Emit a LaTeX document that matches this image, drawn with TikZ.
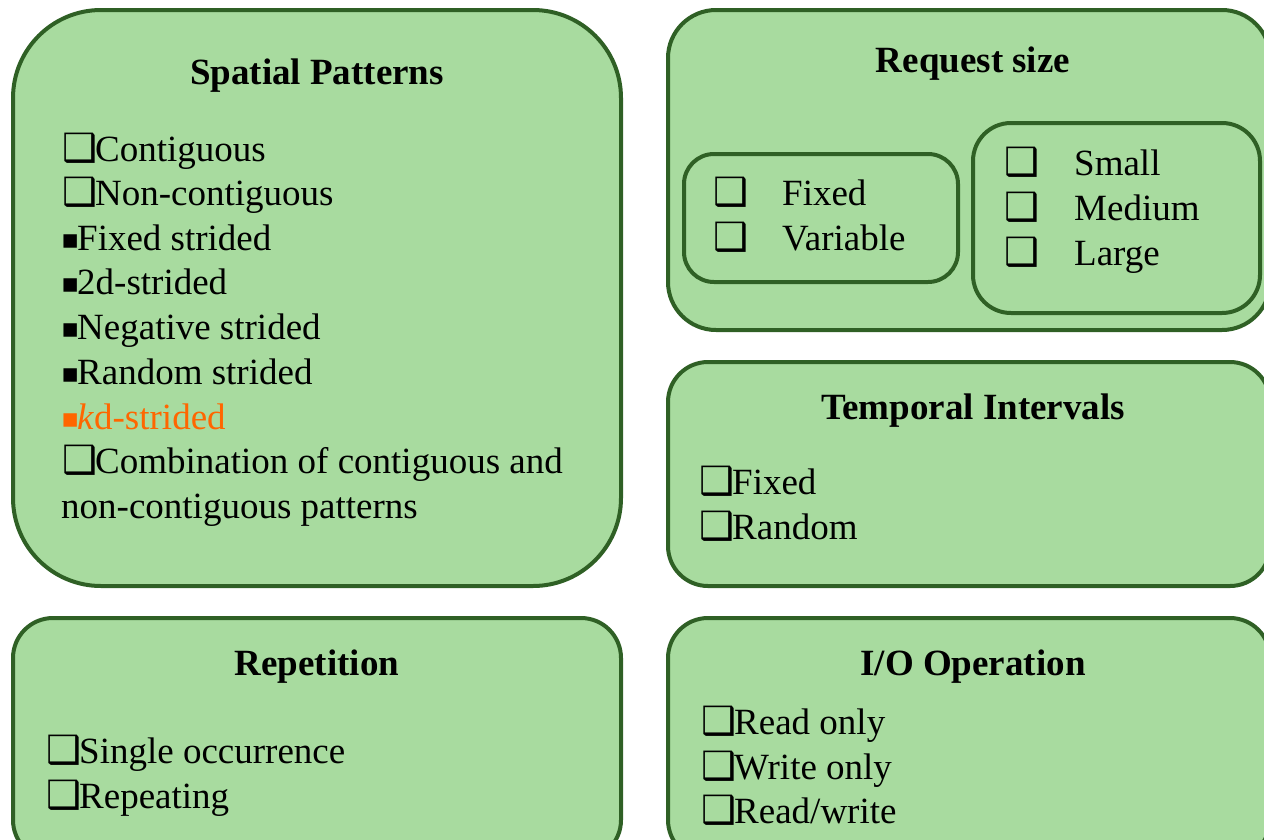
\documentclass[tikz,border=0pt]{standalone}
\usepackage{fontspec}
\setmainfont{Liberation Serif}
\newfontfamily\symfont{DejaVu Sans}
\definecolor{boxfill}{RGB}{168,219,159}
\definecolor{boxline}{RGB}{47,96,37}
\definecolor{kdorange}{RGB}{255,102,0}
\newcommand\cbx{\makebox[32pt][l]{\symfont\fontsize{39}{39}\selectfont\kern-1pt ❑}}
\newcommand\sqb{\makebox[14pt][l]{\raisebox{2pt}{\symfont\fontsize{27}{27}\selectfont\kern-2pt ▪}}}
\begin{document}
\begin{tikzpicture}[x=1pt,y=-1pt,
  panel/.style={draw=boxline,fill=boxfill,line width=4pt},
  txt/.style={anchor=base west,inner sep=0pt,font=\fontsize{37}{44}\selectfont},
  ttl/.style={anchor=base,inner sep=0pt,font=\fontsize{37}{44}\selectfont\bfseries}]
\useasboundingbox (0,0) rectangle (1264,839);
\clip (0,0) rectangle (1264,839);
% panels
\draw[panel,rounded corners=88pt] (13,10) rectangle (621,586);
\draw[panel,rounded corners=48pt] (668,10) rectangle (1270,330);
\draw[panel,rounded corners=30pt] (684,154) rectangle (958,282);
\draw[panel,rounded corners=38pt] (973,123) rectangle (1260,313);
\draw[panel,rounded corners=40pt] (668,362) rectangle (1270,586);
\draw[panel,rounded corners=40pt] (13,618) rectangle (621,860);
\draw[panel,rounded corners=40pt] (668,618) rectangle (1270,860);
% Spatial patterns
\node[ttl] (sptitle) at (317,84) {Spatial Patterns};
\node[txt] (sp1) at (63,161) {\cbx Contiguous};
\node[txt] (sp2) at (63,205) {\cbx Non-contiguous};
\node[txt] (sp3) at (63,250) {\sqb Fixed strided};
\node[txt] (sp4) at (63,294) {\sqb 2d-strided};
\node[txt] (sp5) at (63,339) {\sqb Negative strided};
\node[txt] (sp6) at (63,384) {\sqb Random strided};
\node[txt,text=kdorange] (sp7) at (63,429) {\sqb\textit{k}d-strided};
\node[txt] (sp8) at (63,473) {\cbx Combination of contiguous and};
\node[txt] (sp9) at (61,518) {non-contiguous patterns};
% Request size
\node[ttl] (rqtitle) at (973,72) {Request size};
\node[txt] (rq1) at (714,205) {\makebox[68pt][l]{\cbx}Fixed};
\node[txt] (rq2) at (714,250) {\makebox[68pt][l]{\cbx}Variable};
\node[txt] (rq3) at (1005,175) {\makebox[69pt][l]{\cbx}Small};
\node[txt] (rq4) at (1005,220) {\makebox[69pt][l]{\cbx}Medium};
\node[txt] (rq5) at (1005,265) {\makebox[69pt][l]{\cbx}Large};
% Temporal intervals
\node[ttl] (tititle) at (973,419) {Temporal Intervals};
\node[txt] (ti1) at (700,494) {\cbx Fixed};
\node[txt] (ti2) at (700,539) {\cbx Random};
% Repetition
\node[ttl] (retitle) at (317,675) {Repetition};
\node[txt] (re1) at (47,763) {\cbx Single occurrence};
\node[txt] (re2) at (47,808) {\cbx Repeating};
% I/O operation
\node[ttl] (iotitle) at (973,675) {I/O Operation};
\node[txt] (io1) at (702,734) {\cbx Read only};
\node[txt] (io2) at (702,779) {\cbx Write only};
\node[txt] (io3) at (702,823) {\cbx Read/write};
\end{tikzpicture}
\end{document}
